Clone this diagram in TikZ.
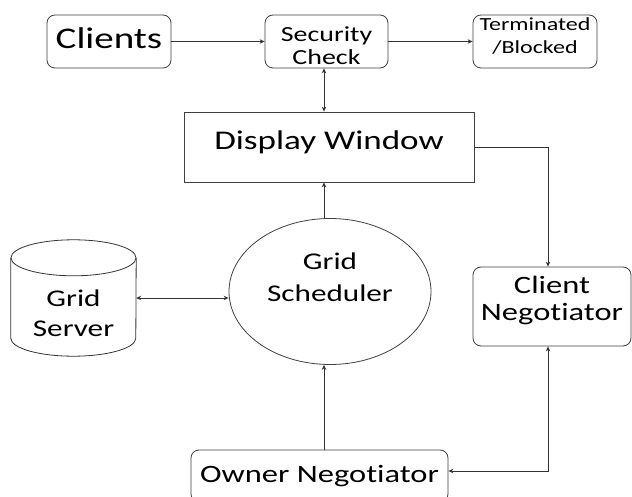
\documentclass[tikz,border=0pt]{standalone}
\usepackage{fontspec}
\setmainfont{Carlito}[FakeStretch=1.3, Ligatures=NoCommon]
\usetikzlibrary{shapes.geometric,arrows.meta}

\begin{document}
\begin{tikzpicture}[x=1pt,y=-1pt,
  >={Stealth[length=5pt,width=4.5pt]},
  box/.style={draw=black!75, line width=0.8pt, rounded corners=8pt, align=center, inner sep=0pt},
  flow/.style={draw=black!80, line width=0.8pt}]

  \clip (0,0) rectangle (632,497);
  \fill[white] (0,0) rectangle (632,497);

  % top row
  \node[box, minimum width=124pt, minimum height=53pt, text depth=6pt, font=\fontsize{30}{34}\selectfont] (clients) at (109,41.5) {Clients};
  \node[box, minimum width=123pt, minimum height=53pt, font=\fontsize{21.5}{23}\selectfont] (security) at (326.5,41.5) {\rule{0pt}{24pt}Security\\Check};
  \node[box, minimum width=124pt, minimum height=53pt, font=\fontsize{18.5}{23}\selectfont] (blocked) at (535,41.5) {Terminated\\/Blocked\rule[-11pt]{0pt}{0pt}};

  \node[box, rounded corners=0pt, minimum width=290pt, minimum height=70pt, text depth=13pt, font=\fontsize{27}{30}\selectfont] (display) at (329,147) {Display Window};

  % middle row
  \node[draw=black!75, line width=0.8pt, ellipse, minimum width=202pt, minimum height=146pt, inner sep=0pt, align=center, font=\fontsize{24}{32}\selectfont] (scheduler) at (330,291.5) {Grid\\Scheduler\rule[-28pt]{0pt}{0pt}};

  \node[minimum width=125pt, minimum height=116pt, inner sep=0pt, align=center, font=\fontsize{24}{30}\selectfont] (server) at (73.5,298) {\rule{0pt}{48pt}Grid\\Server};
  \draw[flow] ([yshift=-18pt]server.north) ellipse [x radius=62.5pt, y radius=18pt];
  \draw[flow] ([yshift=-18pt]server.north west) -- ([yshift=18pt]server.south west)
    arc[start angle=180, end angle=360, x radius=62.5pt, y radius=18pt] -- ([yshift=-18pt]server.north east);

  \node[box, minimum width=158pt, minimum height=79pt, font=\fontsize{25}{27}\selectfont] (clientneg) at (552,306.5) {Client\\Negotiator\rule[-17pt]{0pt}{0pt}};

  % bottom
  \node[box, minimum width=257pt, minimum height=52pt, font=\fontsize{25}{28}\selectfont] (owner) at (319.5,476) {Owner Negotiator};

  \coordinate (spine) at (324,0);

  % connectors
  \draw[flow,->] (clients) -- (security);
  \draw[flow,->] (security) -- (blocked);
  \draw[flow,<->] (spine |- security.south) -- (spine |- display.north);
  \draw[flow,->] (spine |- scheduler.north) -- (spine |- display.south);
  \draw[flow,->] (spine |- owner.north) -- (spine |- scheduler.south);
  \draw[flow,<->] (server.east) -- (server.east -| scheduler.west);
  \draw[flow,->] (display.east) -| ([xshift=-4pt]clientneg.north);
  \draw[flow,<->] ([yshift=5pt]owner.east) -| ([xshift=-4pt]clientneg.south);
\end{tikzpicture}
\end{document}
